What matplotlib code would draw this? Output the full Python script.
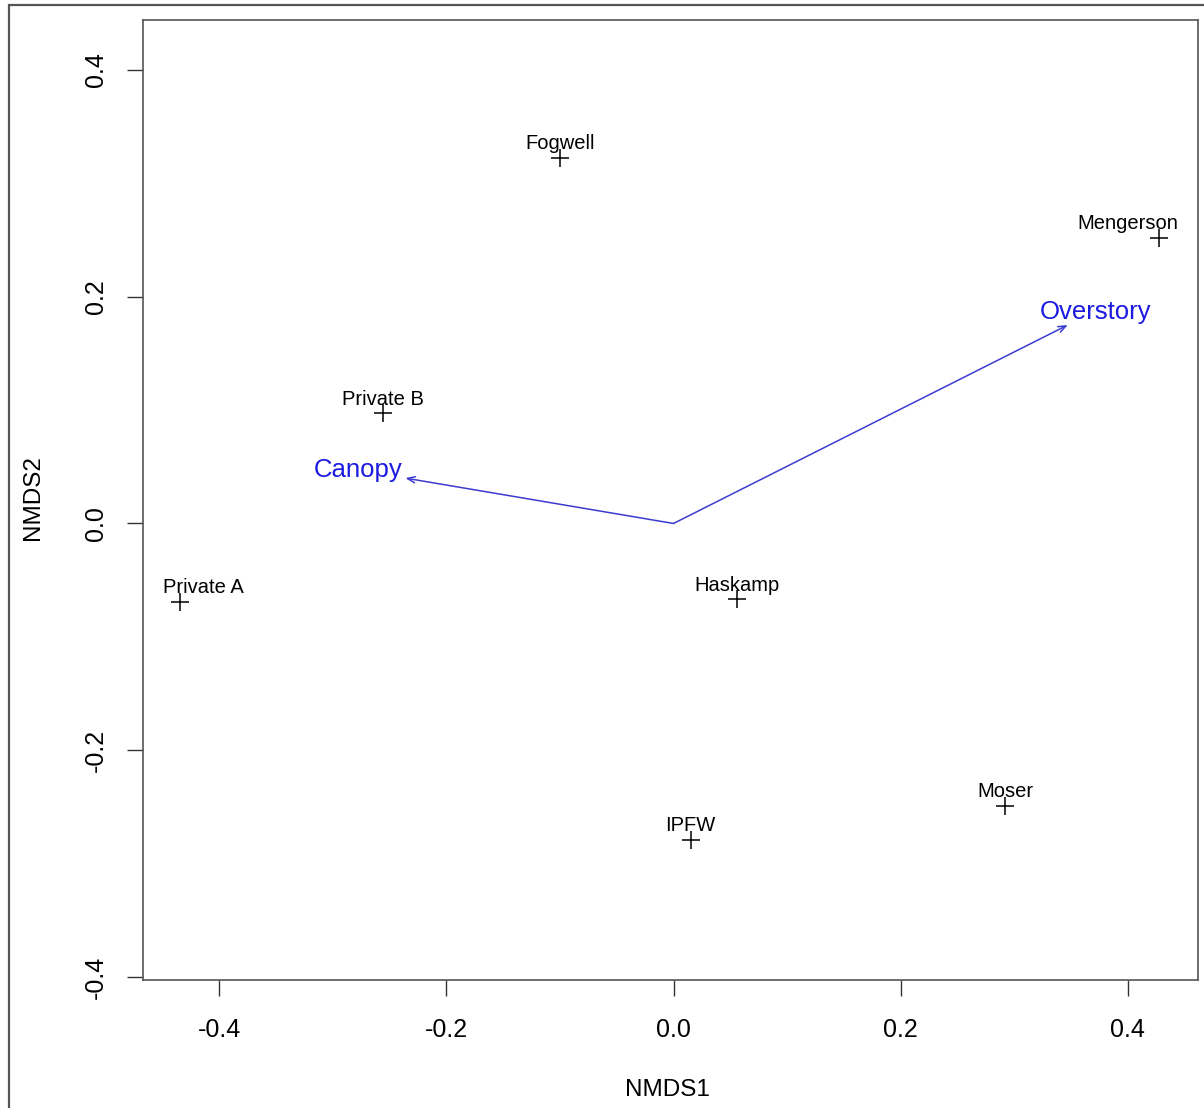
import matplotlib
matplotlib.use("Agg")
import matplotlib.pyplot as plt
from matplotlib.patches import Rectangle

plt.rcParams['font.family'] = ['Liberation Sans', 'DejaVu Sans']

# site scores (NMDS1, NMDS2)
sites = ['Fogwell', 'Mengerson', 'Private B', 'Private A', 'Haskamp', 'IPFW', 'Moser']
nmds1 = [-0.100, 0.427, -0.256, -0.434, 0.056, 0.015, 0.292]
nmds2 = [0.322, 0.252, 0.097, -0.069, -0.067, -0.279, -0.249]

# envfit vectors
vectors = ['Canopy', 'Overstory']
vec1 = [-0.236, 0.347]
vec2 = [0.040, 0.175]

fig = plt.figure(figsize=(12.04, 11.08), dpi=100)
ax = fig.add_axes([143/1204, 128/1108, 1055/1204, 960/1108])

# outer frame (cut off at right and bottom)
fig.patches.append(Rectangle((9/1204, -0.1), 1.2, 1 - 5/1108 + 0.1,
                             transform=fig.transFigure, fill=False,
                             edgecolor='#555555', lw=1.6, clip_on=False))

ax.scatter(nmds1, nmds2, marker='+', s=160, c='black', linewidths=1.1, zorder=3)

labs = []
for s, x, y in zip(sites, nmds1, nmds2):
    t = ax.annotate(s, (x, y), xytext=(0, 3.5), textcoords='offset points',
                    ha='center', va='bottom', fontsize=14.5, color='black')
    labs.append(t)

# arrows
for n, x, y in zip(vectors, vec1, vec2):
    ax.annotate('', xy=(x, y), xytext=(0, 0),
                arrowprops=dict(arrowstyle='->,head_length=0.55,head_width=0.22',
                                color='#3c3cd0', lw=1.1, shrinkA=0, shrinkB=0))

ax.annotate(vectors[0], (vec1[0], vec2[0]), xytext=(-2, 6), textcoords='offset points',
            ha='right', va='center', fontsize=18.5, color='#1a1ae0')
ax.annotate(vectors[1], (vec1[1], vec2[1]), xytext=(20, 1), textcoords='offset points',
            ha='center', va='bottom', fontsize=18.5, color='#1a1ae0')

ax.set_xlim(-0.467, 0.4617)
ax.set_ylim(-0.4026, 0.444)
ax.set_xticks([-0.4, -0.2, 0.0, 0.2, 0.4])
ax.set_yticks([-0.4, -0.2, 0.0, 0.2, 0.4])
ax.set_xticklabels(['-0.4', '-0.2', '0.0', '0.2', '0.4'])
ax.set_yticklabels(['-0.4', '-0.2', '0.0', '0.2', '0.4'], rotation=90, va='center')
ax.tick_params(length=11.5, width=1.0, color='#333333', labelsize=18, pad=14)
ax.tick_params(axis='x', pad=16)
for sp in ax.spines.values():
    sp.set_color('#555555')
    sp.set_linewidth(1.2)

fig.text(667/1204, 1 - 1090/1108, 'NMDS1', ha='center', va='center', fontsize=17.5)
fig.text(33/1204, 1 - 498/1108, 'NMDS2', ha='center', va='center', fontsize=17.5, rotation=90)

# keep site labels inside the box
fig.canvas.draw()
r = fig.canvas.get_renderer()
abox = ax.get_window_extent(r)
for t in labs:
    bb = t.get_window_extent(r)
    dx = 0
    if bb.x0 < abox.x0 + 20:
        dx = abox.x0 + 20 - bb.x0
    elif bb.x1 > abox.x1 - 20:
        dx = abox.x1 - 20 - bb.x1
    if dx:
        ox, oy = t.xyann
        t.xyann = (ox + dx * 72 / fig.dpi, oy)

fig.savefig('out.png', dpi=100)
